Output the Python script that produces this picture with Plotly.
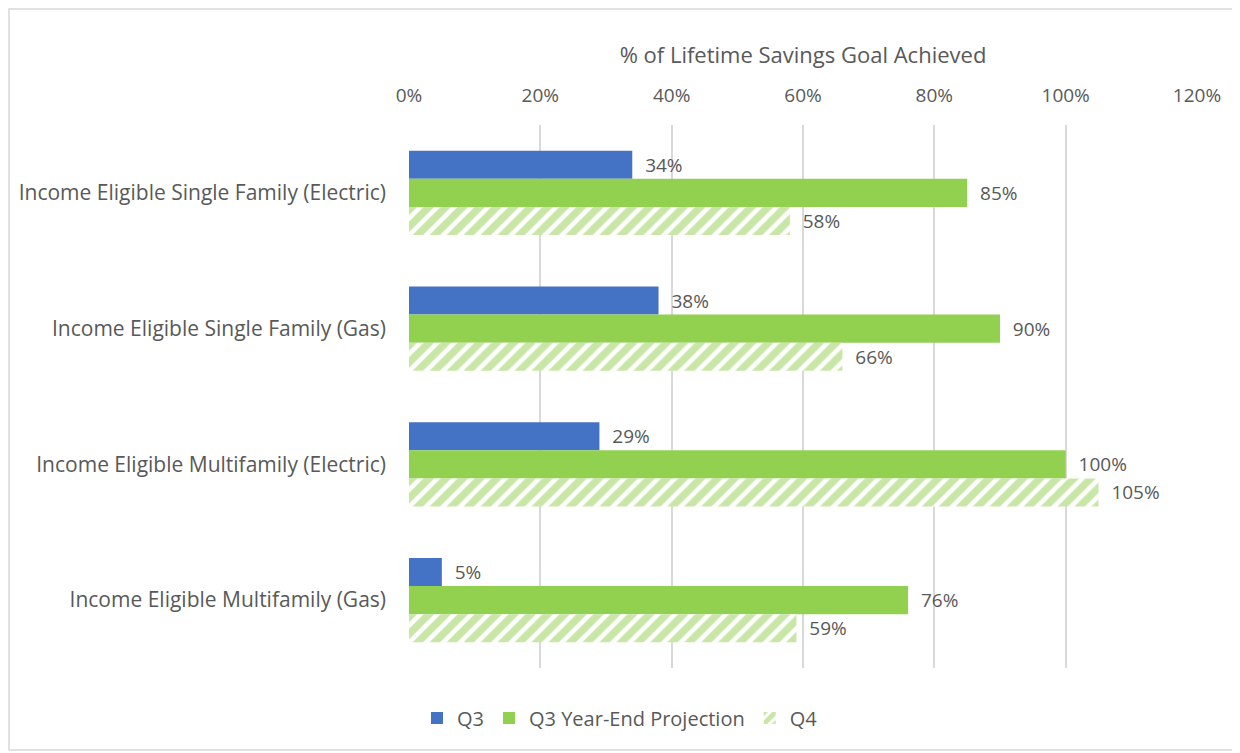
import plotly.graph_objects as go

categories = [
    "Income Eligible Single Family (Electric)",
    "Income Eligible Single Family (Gas)",
    "Income Eligible Multifamily (Electric)",
    "Income Eligible Multifamily (Gas)",
]
q3 = [0.34, 0.38, 0.29, 0.05]
q3_projection = [0.85, 0.90, 1.00, 0.76]
q4 = [0.58, 0.66, 1.05, 0.59]
tick_vals = [0, 0.2, 0.4, 0.6, 0.8, 1.0, 1.2]
tick_text = ["0%", "20%", "40%", "60%", "80%", "100%", "120%"]

FONT = "'Open Sans', 'Noto Sans', sans-serif"
TXT = "#595959"
BLUE = "#4472C4"
GREEN = "#92D050"
FS_DATA = 19
FS_TICK = 19
FS_CAT = 21
FS_TITLE = 22
FS_LEG = 20

def pct(v):
    return [f"  {round(x*100)}%" for x in v]

# plot area in screen pixels (page has an 8px body offset)
PL, PR, PT, PB = 409, 1197, 125, 668
OFF = 8
PW, PH = PR - PL, PB - PT

fig = go.Figure()
fig.add_trace(go.Bar(
    y=categories, x=q3, name="Q3", orientation="h",
    marker=dict(color=BLUE, line=dict(width=0)),
    text=pct(q3), textposition="outside", cliponaxis=False,
    textfont=dict(color=TXT, size=FS_DATA, family=FONT),
))
fig.add_trace(go.Bar(
    y=categories, x=q3_projection, name="Q3 Year-End Projection", orientation="h",
    marker=dict(color=GREEN, line=dict(width=0)),
    text=pct(q3_projection), textposition="outside", cliponaxis=False,
    textfont=dict(color=TXT, size=FS_DATA, family=FONT),
))
fig.add_trace(go.Bar(
    y=categories, x=q4, name="Q4", orientation="h",
    marker=dict(color="white", line=dict(width=0),
                pattern=dict(shape="/", fgcolor=GREEN, bgcolor="white", size=12, solidity=0.62)),
    text=pct(q4), textposition="outside", cliponaxis=False,
    textfont=dict(color=TXT, size=FS_DATA, family=FONT),
))

fig.update_layout(
    width=1240, height=753,
    barmode="group", bargap=0.38, bargroupgap=0,
    plot_bgcolor="white", paper_bgcolor="white",
    margin=dict(l=PL - OFF, r=1240 - (PR - OFF), t=PT - OFF, b=753 - (PB - OFF)),
    font=dict(family=FONT, color=TXT, size=FS_TICK),
    showlegend=True,
    legend=dict(orientation="h", x=(620 - PL) / PW, xanchor="center",
                y=-(718 - PB) / PH, yanchor="middle",
                font=dict(size=FS_LEG, color=TXT, family=FONT), traceorder="normal"),
    xaxis=dict(
        side="top", range=[0, 1.2], tickvals=tick_vals, ticktext=tick_text,
        showgrid=True, gridcolor="#d9d9d9", gridwidth=1.5, zeroline=False,
        showline=False, ticks="", tickfont=dict(size=FS_TICK, color=TXT),
        ticklabelstandoff=18,
        title=dict(text="% of Lifetime Savings Goal Achieved", font=dict(size=FS_TITLE, color=TXT), standoff=12),
    ),
    yaxis=dict(
        autorange="reversed", showgrid=False, showline=False, ticks="",
        tickfont=dict(size=FS_CAT, color=TXT), ticklabelstandoff=22,
    ),
    shapes=[dict(type="rect", xref="paper", yref="paper",
                 x0=(OFF + 1 - PL) / PW, x1=(1239 - PL) / PW,
                 y0=-(750 - PB) / PH, y1=(PB - OFF - 1) / PH,
                 line=dict(color="#d9d9d9", width=1.5))],
)

fig.write_html("out.html")
